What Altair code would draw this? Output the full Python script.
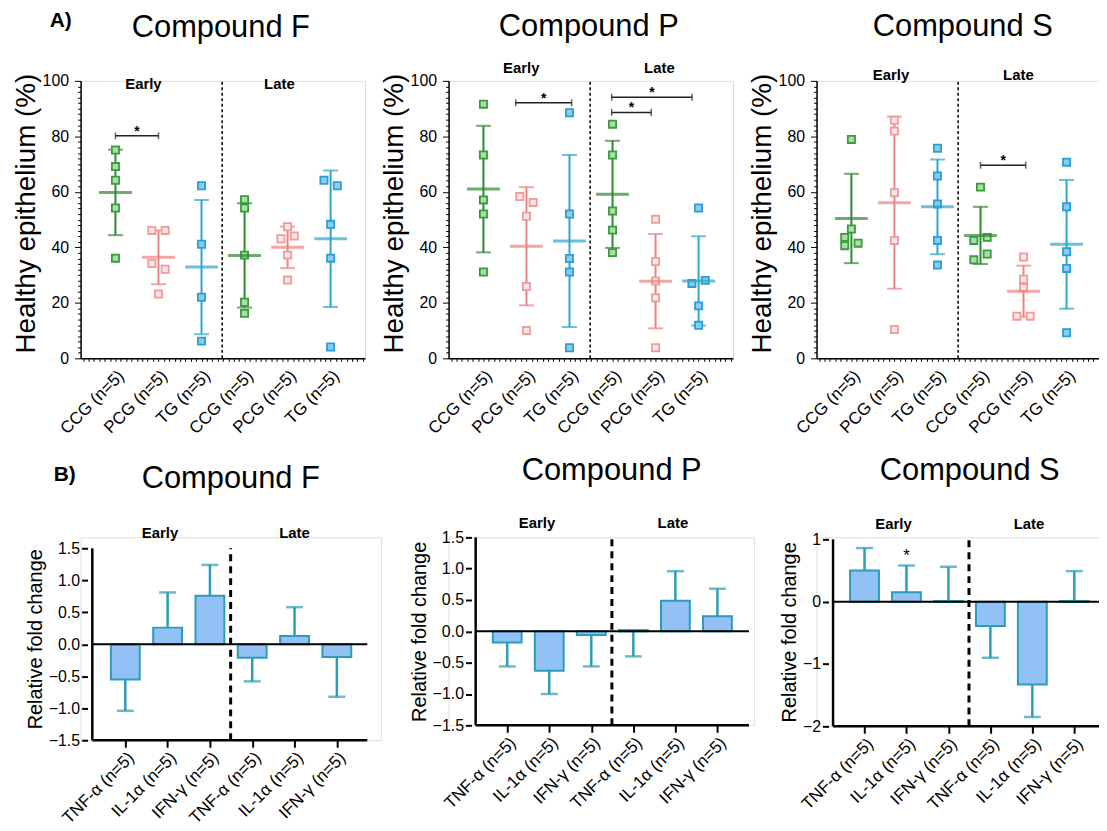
import json
import altair as alt
import pandas as pd

FONT = "Liberation Sans"

# ---------------- data ----------------
TOP_LABELS = ["CCG (n=5)", "PCG (n=5)", "TG (n=5)", "CCG (n=5)", "PCG (n=5)", "TG (n=5)"]
TOP_GROUPS = ["CCG", "PCG", "TG", "CCG", "PCG", "TG"]
BOTTOM_LABELS = ["TNF-α (n=5)", "IL-1α (n=5)", "IFN-γ (n=5)",
                 "TNF-α (n=5)", "IL-1α (n=5)", "IFN-γ (n=5)"]
STAGES = ["Early", "Late"]

# Panel A - healthy epithelium (%), individual values per group (Early CCG, PCG, TG, Late CCG, PCG, TG)
F_POINTS = [[75.1, 69.1, 64.2, 54.2, 36.1], [46.1, 46.1, 34.2, 32.1, 23.2], [62.2, 41.1, 22.0, 6.2],
            [57.2, 54.2, 37.2, 20.2, 16.2], [47.4, 43.1, 44.1, 37.2, 28.2], [64.2, 62.2, 48.3, 36.1, 4.1]]
F_JITTER = [[0, 0, 0, 0, 0], [-1, 1, -1, 1, 0], [0, 0, 0, 0], [0, 0, 0, 0, 0], [0, -1, 1, 0, 0], [-1, 1, 0, 0, 0]]
F_MEAN = [59.8, 36.4, 32.9, 37.1, 40.0, 43.1]
F_SD = [15.4, 9.7, 24.2, 18.8, 7.5, 24.6]
F_SIG = [(1.0, 2.0, 80.2)]

P_POINTS = [[91.6, 73.3, 57.1, 52.0, 31.1], [58.3, 56.2, 51.2, 25.9, 10.0], [88.5, 52.0, 36.0, 31.1, 3.8],
            [84.4, 73.3, 53.1, 46.2, 38.1], [50.1, 34.9, 27.9, 21.8, 3.8], [54.2, 27.0, 28.1, 18.9, 11.9]]
P_JITTER = [[0, 0, 0, 0, 0], [-1, 1, 0, 0, 0], [0, 0, 0, 0, 0], [0, 0, 0, 0, 0], [0, 0, 0, 0, 0], [0, -1, 1, 0, 0]]
P_MEAN = [61.0, 40.4, 42.3, 59.1, 27.8, 27.9]
P_SD = [22.8, 21.3, 31.0, 19.3, 17.0, 16.1]
P_SIG = [(1.75, 3.05, 92.1), (3.98, 4.9, 88.6), (3.98, 5.85, 94.1)]

S_POINTS = [[78.9, 46.6, 43.6, 40.6, 41.5], [85.8, 81.9, 59.7, 42.5, 10.4], [75.7, 65.7, 55.6, 42.5, 33.6],
            [61.7, 42.5, 43.6, 35.5, 37.6], [36.5, 28.5, 25.5, 15.2, 15.2], [70.7, 54.6, 38.4, 32.4, 9.2]]
S_JITTER = [[0, 0, -1, -1, 1], [0, 0, 0, 0, 0], [0, 0, 0, 0, 0], [0, -1, 1, -1, 1], [0, 0, 0, -1, 1], [0, 0, 0, 0, 0]]
S_MEAN = [50.4, 56.1, 54.6, 44.3, 24.2, 41.1]
S_SD = [16.1, 31.0, 17.1, 10.3, 9.2, 23.2]
S_SIG = [(4.0, 5.05, 69.6)]

# Panel B - relative fold change (bar value and end of error bar)
BF_VALUE = [-0.55, 0.26, 0.76, -0.21, 0.13, -0.20]
BF_ERROR = [-1.04, 0.81, 1.24, -0.58, 0.58, -0.82]
BP_VALUE = [-0.18, -0.63, -0.06, 0.02, 0.49, 0.24]
BP_ERROR = [-0.56, -1.00, -0.56, -0.40, 0.96, 0.68]
BS_VALUE = [0.50, 0.15, 0.01, -0.39, -1.33, 0.01]
BS_ERROR = [0.86, 0.58, 0.56, -0.90, -1.85, 0.49]
BS_STAR = [(2, 0.74)]

# ---------------- styles ----------------
GRP = ["CCG", "PCG", "TG"]
PT_STROKE = alt.Scale(domain=GRP, range=["#3a9c3a", "#f09a9a", "#2a9ed6"])
PT_FILL = alt.Scale(domain=GRP, range=["#abdcab", "#fde6e6", "#8ccdee"])
MEAN_COL = alt.Scale(domain=GRP, range=["#2d8a2d", "#e04a4a", "#27a3c6"])
SD_COL = alt.Scale(domain=GRP, range=["#2d8a2d", "#ee8080", "#2aa7c9"])
BAR_FILL = "#92c1f5"
BAR_STROKE = "#2b9db8"

TOP_EXPR = ("datum.value % 1 === 0 ? " + json.dumps([""] + TOP_LABELS, ensure_ascii=False)
            + "[datum.value] : ''")
BOTTOM_EXPR = json.dumps([""] + BOTTOM_LABELS, ensure_ascii=False) + "[datum.value]"
X_MINOR = [round(0.25 + 0.125 * k, 4) for k in range(53)]
Y_MINOR = list(range(0, 101, 2))


def text_layer(t, x, y, size, weight="normal", baseline="alphabetic"):
    return (alt.Chart(pd.DataFrame({"t": [t]}))
            .mark_text(font=FONT, fontSize=size, fontWeight=weight, baseline=baseline, align="center",
                       color="black")
            .encode(x=alt.value(x), y=alt.value(y), text="t:N"))


def top_panel(name, points, jitter, means, sds, sig, lab_x, lab_y, t_x, t_y, letter=None):
    xs = alt.Scale(domain=[0.19, 6.8], nice=False, zero=False)
    ys = alt.Scale(domain=[0, 100], nice=False, zero=False)
    xax = alt.Axis(values=X_MINOR, labelExpr=TOP_EXPR, labelAngle=-45, labelAlign="right",
                   labelBaseline="top", labelPadding=6, tickSize=3, tickColor="black", tickWidth=1,
                   domainColor="black", domainWidth=1.5, labelFontSize=17, labelFont=FONT,
                   labelColor="black", labelFlush=False, labelOverlap=False, title=None, grid=False)
    yax = alt.Axis(values=Y_MINOR, labelExpr="datum.value % 20 === 0 ? datum.label : ''",
                   tickSize={"condition": {"test": "datum.value % 20 === 0", "value": 6}, "value": 3},
                   tickColor="black", tickWidth=1, domainColor="black", domainWidth=1.5,
                   labelFontSize=16, labelFont=FONT, labelColor="black", labelPadding=6,
                   labelOverlap=False, title="Healthy epithelium (%)", titleFont=FONT,
                   titleFontSize=28, titleFontWeight="normal", titleColor="black",
                   titlePadding=2, titleY=133, titleBaseline="bottom", grid=False)

    def X(f):
        return alt.X(f, scale=xs, axis=xax)

    def Y(f):
        return alt.Y(f, scale=ys, axis=yax)

    rows = []
    for i, vals in enumerate(points):
        for v, j in zip(vals, jitter[i]):
            rows.append({"pos": i + 1, "val": v, "jit": j, "grp": TOP_GROUPS[i]})
    pts = pd.DataFrame(rows)
    st = pd.DataFrame({"pos": list(range(1, 7)), "mean": means, "sd": sds, "grp": TOP_GROUPS})

    layers = []
    layers.append(
        alt.Chart(st).transform_calculate(lo="datum.mean - datum.sd", hi="datum.mean + datum.sd")
        .mark_rule(strokeWidth=2).encode(x=X("pos:Q"), y=Y("lo:Q"), y2="hi:Q",
                                         color=alt.Color("grp:N", scale=SD_COL, legend=None)))
    layers.append(
        alt.Chart(st).transform_calculate(lo="datum.mean - datum.sd", hi="datum.mean + datum.sd")
        .transform_fold(["lo", "hi"], as_=["k", "v"])
        .mark_tick(orient="horizontal", size=15, thickness=2)
        .encode(x=X("pos:Q"), y=Y("v:Q"), color=alt.Color("grp:N", scale=SD_COL, legend=None)))
    layers.append(
        alt.Chart(pts).transform_calculate(xj="datum.pos + datum.jit * 0.155")
        .mark_square(size=52, strokeWidth=1.8, opacity=1)
        .encode(x=X("xj:Q"), y=Y("val:Q"),
                stroke=alt.Stroke("grp:N", scale=PT_STROKE, legend=None),
                fill=alt.Fill("grp:N", scale=PT_FILL, legend=None)))
    layers.append(
        alt.Chart(st).mark_tick(orient="horizontal", size=33, thickness=3)
        .encode(x=X("pos:Q"), y=Y("mean:Q"), color=alt.Color("grp:N", scale=MEAN_COL, legend=None)))
    layers.append(
        alt.Chart(pd.DataFrame({"x": [3.48], "y0": [0], "y1": [100]}))
        .mark_rule(strokeDash=[3, 2.5], strokeWidth=1.5, color="black")
        .encode(x=X("x:Q"), y=Y("y0:Q"), y2="y1:Q"))
    sg = pd.DataFrame([{"x1": a, "x2": b, "y": c, "t": "*"} for a, b, c in sig])
    layers.append(alt.Chart(sg).mark_rule(strokeWidth=1.5, color="#222")
                  .encode(x=X("x1:Q"), x2="x2:Q", y=Y("y:Q")))
    layers.append(alt.Chart(sg).transform_fold(["x1", "x2"], as_=["k", "xv"])
                  .mark_tick(orient="vertical", size=7, thickness=1.5, color="#222")
                  .encode(x=X("xv:Q"), y=Y("y:Q")))
    layers.append(alt.Chart(sg).transform_calculate(xm="(datum.x1 + datum.x2) / 2")
                  .mark_text(font=FONT, fontSize=14, fontWeight="bold", baseline="alphabetic", dy=0,
                             color="black")
                  .encode(x=X("xm:Q"), y=Y("y:Q"), text="t:N"))
    lab = pd.DataFrame({"x": lab_x, "t": STAGES})
    layers.append(alt.Chart(lab).mark_text(font=FONT, fontSize=15, fontWeight="bold", baseline="middle",
                                           color="black")
                  .encode(x=X("x:Q"), y=alt.value(lab_y), text="t:N"))
    layers.append(text_layer(name, t_x, t_y, 31))
    if letter:
        layers.append(text_layer(letter, -20, -60, 21, "bold", "middle"))
    return alt.layer(*layers).properties(width=286, height=279)


def bottom_panel(name, values, errors, lo, hi, ax_x, x_end, y_lo, y_dom_top, y_ax_top, width, height,
                 yvals, yfmt, d, lab_x, lab_y, t_x, t_y, stars=None, letter=None):
    xs = alt.Scale(domain=[lo, hi], nice=False, zero=False)
    ys = alt.Scale(domain=[y_lo, y_dom_top], nice=False, zero=False)
    xax = alt.Axis(values=[1, 2, 3, 4, 5, 6], labelExpr=BOTTOM_EXPR, labelAngle=-45, labelAlign="right",
                   labelBaseline="top", labelPadding=2, tickSize=7, tickWidth=2, tickColor="black",
                   domain=False, labelFontSize=17, labelFont=FONT, labelColor="black",
                   labelFlush=False, labelOverlap=False, title=None, grid=False)
    yax = alt.Axis(values=yvals, format=yfmt, tickSize=6, tickWidth=2, tickColor="black", domain=False,
                   offset=-d, labelFontSize=16, labelFont=FONT, labelColor="black", labelPadding=2,
                   labelOverlap=False, title="Relative fold change", titleFont=FONT, titleFontSize=20,
                   titleFontWeight="normal", titleColor="black", titlePadding=3, grid=False)

    def X(f):
        return alt.X(f, scale=xs, axis=xax)

    def Y(f):
        return alt.Y(f, scale=ys, axis=yax)

    df = pd.DataFrame({"pos": list(range(1, 7)), "val": values, "err": errors, "zero": [0] * 6})
    layers = [
        alt.Chart(df).mark_rule(color=BAR_STROKE, strokeWidth=2.5)
        .encode(x=X("pos:Q"), y=Y("val:Q"), y2="err:Q"),
        alt.Chart(df).mark_tick(orient="horizontal", size=17, thickness=2.5, color=BAR_STROKE)
        .encode(x=X("pos:Q"), y=Y("err:Q")),
        alt.Chart(df).mark_bar(size=29, fill=BAR_FILL, stroke=BAR_STROKE, strokeWidth=2, orient="vertical")
        .encode(x=X("pos:Q"), y=Y("val:Q"), y2="zero:Q"),
    ]
    axl = pd.DataFrame({"x0": [ax_x], "x1": [x_end], "yb": [y_lo], "yt": [y_ax_top], "z": [0]})
    layers.append(alt.Chart(axl).mark_rule(color="black", strokeWidth=2)
                  .encode(x=X("x0:Q"), x2="x1:Q", y=Y("z:Q")))
    layers.append(alt.Chart(axl).mark_rule(color="black", strokeWidth=2.5)
                  .encode(x=X("x0:Q"), x2="x1:Q", y=Y("yb:Q")))
    layers.append(alt.Chart(axl).mark_rule(color="black", strokeWidth=2.5)
                  .encode(x=X("x0:Q"), y=Y("yb:Q"), y2="yt:Q"))
    layers.append(alt.Chart(pd.DataFrame({"x": [3.49], "yb": [y_lo], "yt": [y_ax_top]}))
                  .mark_rule(color="black", strokeWidth=3, strokeDash=[7, 5])
                  .encode(x=X("x:Q"), y=Y("yb:Q"), y2="yt:Q"))
    lab = pd.DataFrame({"x": lab_x, "t": STAGES})
    layers.append(alt.Chart(lab).mark_text(font=FONT, fontSize=15, fontWeight="bold", baseline="middle",
                                           color="black")
                  .encode(x=X("x:Q"), y=alt.value(lab_y), text="t:N"))
    if stars:
        sdf = pd.DataFrame([{"x": a, "y": b, "t": "*"} for a, b in stars])
        layers.append(alt.Chart(sdf).mark_text(font=FONT, fontSize=17, baseline="middle", color="black")
                      .encode(x=X("x:Q"), y=Y("y:Q"), text="t:N"))
    layers.append(text_layer(name, t_x, t_y, 31))
    if letter:
        layers.append(text_layer(letter, -16, -63, 21, "bold", "middle"))
    return alt.layer(*layers).properties(width=width, height=height)


tF = top_panel("Compound F", F_POINTS, F_JITTER, F_MEAN, F_SD, F_SIG, [1.65, 4.81], 3, 141, -44, "A)")
tP = top_panel("Compound P", P_POINTS, P_JITTER, P_MEAN, P_SD, P_SIG, [1.88, 5.09], -13, 141, -45.5)
tS = top_panel("Compound S", S_POINTS, S_JITTER, S_MEAN, S_SD, S_SIG, [1.92, 4.88], -6, 147, -45.5)

B_VALS = [-1.5, -1.0, -0.5, 0.0, 0.5, 1.0, 1.5]
bF = bottom_panel("Compound F", BF_VALUE, BF_ERROR, 0.061, 6.925, 0.22, 6.72, -1.5, 1.671, 1.5,
                  302, 204, B_VALS, ".1f", 7, [1.82, 5.0], -4, 151, -49.5, letter="B)")
bP = bottom_panel("Compound P", BP_VALUE, BP_ERROR, -0.276, 6.749, 0.25, 6.75, -1.5, 1.5, 1.5,
                  307, 189, B_VALS, ".1f", 23, [1.71, 4.94], -14, 164, -58)
bS = bottom_panel("Compound S", BS_VALUE, BS_ERROR, -0.0246, 6.589, 0.25, 6.589, -2.0, 1.032, 1.0,
                  289, 190, [-2, -1, 0, 1], "d", 12, [1.69, 4.92], -13, 154, -57.3, stars=BS_STAR)

chart = alt.concat(tF, tP, tS, bF, bP, bS, columns=3, spacing={"row": 180, "column": 63},
                   bounds="flush", align="all").properties(
    autosize=alt.AutoSizeParams(type="none"),
    padding={"left": 73, "top": 71, "right": 1024, "bottom": 752}
).configure_view(stroke=None).configure(background="white")

chart.save("out.html", embed_options={"renderer": "svg", "actions": False})
